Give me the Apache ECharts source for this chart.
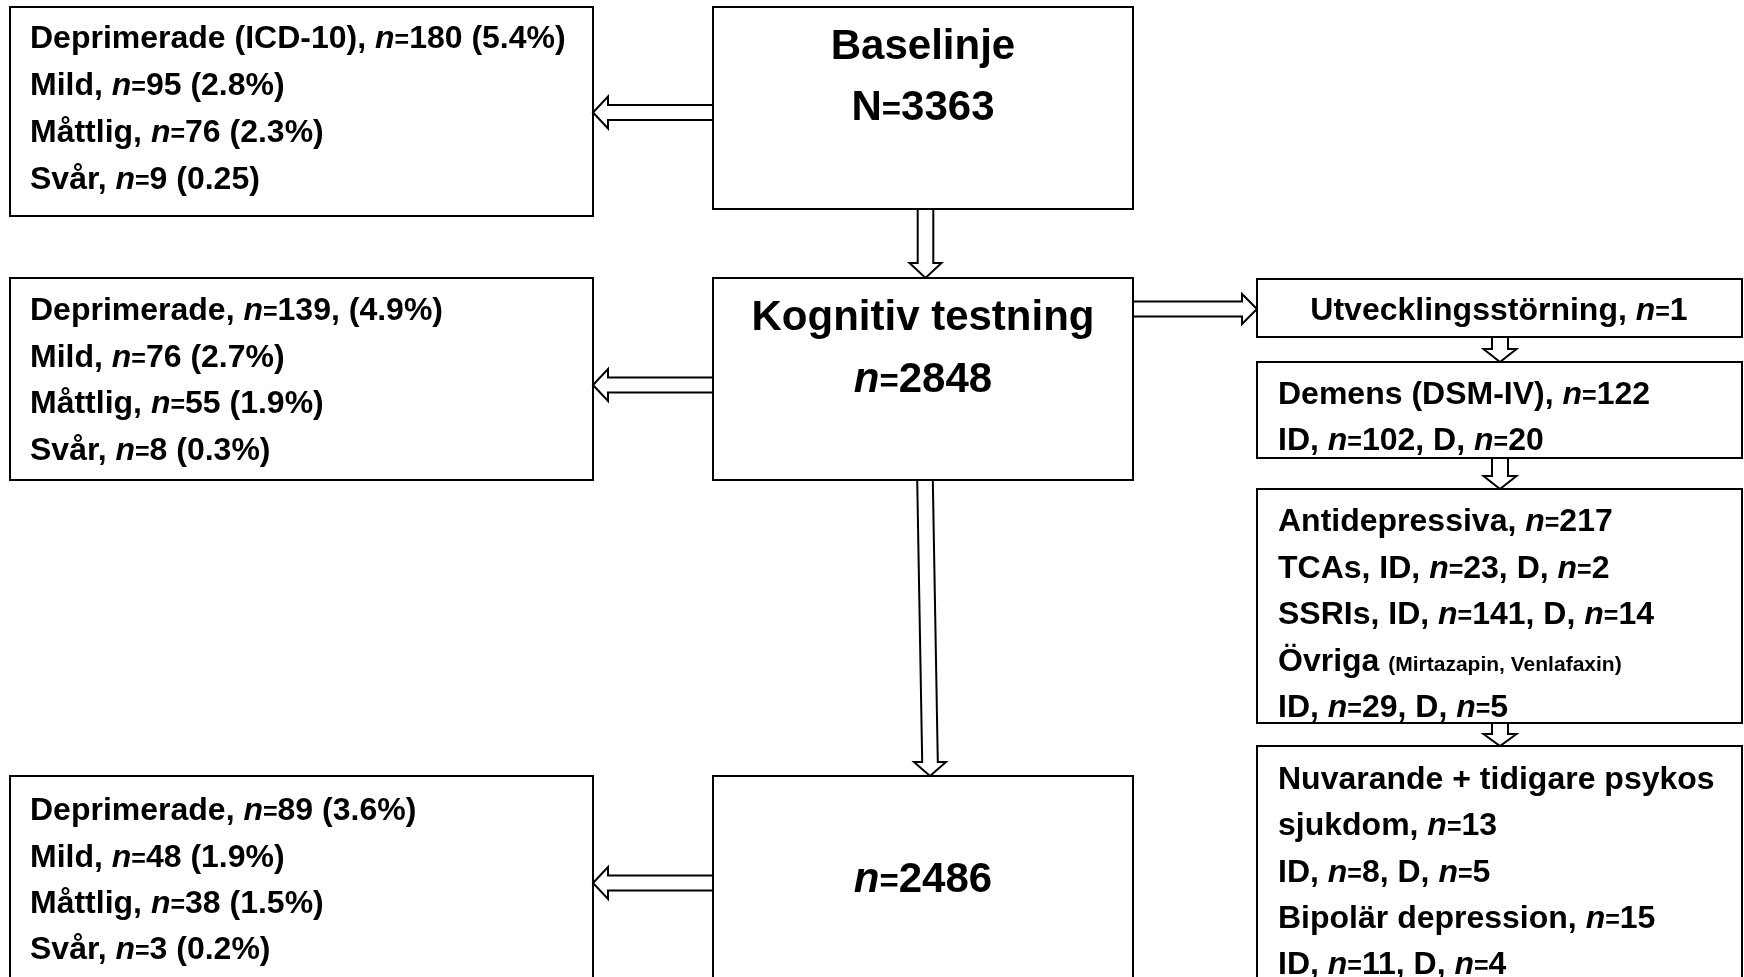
<!DOCTYPE html>
<html>
<head>
<meta charset="utf-8">
<script src="https://cdn.jsdelivr.net/npm/echarts@6/dist/echarts.min.js"></script>
<style>
  html, body { margin: 0; padding: 0; background: #fff; }
  #main { width: 1744px; height: 977px; }
</style>
</head>
<body>
<div id="main"></div>
<script>
// texts of the flow chart
const baselineTitle = ['Baselinje', 'N=3363'];
const baselineDepr = ['Deprimerade (ICD-10), n=180 (5.4%)', 'Mild, n=95 (2.8%)', 'Måttlig, n=76 (2.3%)', 'Svår, n=9 (0.25)'];
const cognitiveTitle = ['Kognitiv testning', 'n=2848'];
const cognitiveDepr = ['Deprimerade, n=139, (4.9%)', 'Mild, n=76 (2.7%)', 'Måttlig, n=55 (1.9%)', 'Svår, n=8 (0.3%)'];
const finalTitle = ['n=2486'];
const finalDepr = ['Deprimerade, n=89 (3.6%)', 'Mild, n=48 (1.9%)', 'Måttlig, n=38 (1.5%)', 'Svår, n=3 (0.2%)'];
const devDisorder = ['Utvecklingsstörning, n=1'];
const dementia = ['Demens (DSM-IV), n=122', 'ID, n=102, D, n=20'];
const antidep = ['Antidepressiva, n=217', 'TCAs, ID, n=23, D, n=2', 'SSRIs, ID, n=141, D, n=14', 'Övriga {s|(Mirtazapin, Venlafaxin)}', 'ID, n=29, D, n=5'];
const psychosis = ['Nuvarande + tidigare psykos', 'sjukdom, n=13', 'ID, n=8, D, n=5', 'Bipolär depression, n=15', 'ID, n=11, D, n=4'];

const FONT = '"Liberation Sans", Arial, sans-serif';

const chart = echarts.init(document.getElementById('main'));

function rich(size) {
  return {
    i: { fontStyle: 'italic', fontWeight: 'bold', fontSize: size, fontFamily: FONT, fill: '#000' },
    e: { fontWeight: 'bold', fontSize: Math.round(size * 0.78), fontFamily: FONT, fill: '#000', padding: [Math.round(size * 0.12), 0, 0, 0] },
    s: { fontWeight: 'bold', fontSize: 21, fontFamily: FONT, fill: '#000', padding: [7, 0, 0, 0] }
  };
}

function fmt(s) {
  return s.replace(/\b([nN])=/g, (m, c) => (c === 'n' ? '{i|n}' : c) + '{e|=}');
}

function textLines(lines, x, y0, step, size, align) {
  return lines.map((t, k) => ({
    type: 'text',
    x: x,
    y: y0 + k * step,
    style: {
      text: fmt(t),
      rich: rich(size),
      fontSize: size,
      fontWeight: 'bold',
      fontFamily: FONT,
      fill: '#000',
      align: align || 'left',
      verticalAlign: 'middle'
    }
  }));
}

function box(x, y, w, h) {
  return {
    type: 'rect',
    shape: { x: x, y: y, width: w, height: h },
    style: { fill: '#fff', stroke: '#000', lineWidth: 2 }
  };
}

function poly(points) {
  return {
    type: 'polygon',
    shape: { points: points },
    style: { fill: '#fff', stroke: '#000', lineWidth: 2 },
    z: 10
  };
}

// hollow arrow pointing left, tip at (tx, cy), starting at x0
function arrowLeft(x0, tx, cy) {
  return poly([[x0, cy - 7.5], [tx + 15, cy - 7.5], [tx + 15, cy - 16], [tx, cy],
    [tx + 15, cy + 16], [tx + 15, cy + 7.5], [x0, cy + 7.5]]);
}
function arrowRight(x0, tx, cy) {
  return poly([[x0, cy - 7.5], [tx - 15, cy - 7.5], [tx - 15, cy - 15], [tx, cy],
    [tx - 15, cy + 15], [tx - 15, cy + 7.5], [x0, cy + 7.5]]);
}
// hollow arrow pointing down
function arrowDown(cx0, y0, cx1, ty, sw, hw, hl) {
  return poly([[cx0 - sw, y0], [cx1 - sw, ty - hl], [cx1 - hw, ty - hl], [cx1, ty],
    [cx1 + hw, ty - hl], [cx1 + sw, ty - hl], [cx0 + sw, y0]]);
}

const elements = [
  box(10, 7, 583, 209),
  box(713, 7, 420, 202),
  box(10, 278, 583, 202),
  box(713, 278, 420, 202),
  box(10, 776, 583, 240),
  box(713, 776, 420, 240),
  box(1257, 279, 485, 58),
  box(1257, 362, 485, 96),
  box(1257, 489, 485, 234),
  box(1257, 746, 485, 260),

  arrowLeft(713, 593, 112.5),
  arrowLeft(713, 593, 385),
  arrowLeft(713, 593, 883),
  arrowRight(1133, 1257, 309),
  arrowDown(925.5, 209, 925.5, 278, 7.8, 16, 15),
  arrowDown(925, 480, 930, 776, 7.8, 16, 14),
  arrowDown(1500, 337, 1500, 362, 8, 16.5, 13),
  arrowDown(1500, 458, 1500, 489, 8, 16.5, 13),
  arrowDown(1500, 723, 1500, 746, 8, 16.5, 12)
];

elements.push(
  ...textLines(baselineDepr, 30, 39, 46.9, 32),
  ...textLines(baselineTitle, 923, 47, 61, 42, 'center'),
  ...textLines(cognitiveDepr, 30, 311.5, 46.4, 32),
  ...textLines(cognitiveTitle, 923, 318.5, 62, 42, 'center'),
  ...textLines(finalDepr, 30, 811.5, 46.3, 32),
  ...textLines(finalTitle, 923, 880.5, 0, 42, 'center'),
  ...textLines(devDisorder, 1499, 311, 0, 32, 'center'),
  ...textLines(dementia, 1278, 395.5, 45.6, 32),
  ...textLines(antidep, 1278, 522.5, 46.4, 32),
  ...textLines(psychosis, 1278, 780, 46.4, 32)
);

chart.setOption({
  backgroundColor: '#fff',
  animation: false,
  graphic: { elements: elements }
});
</script>
</body>
</html>
